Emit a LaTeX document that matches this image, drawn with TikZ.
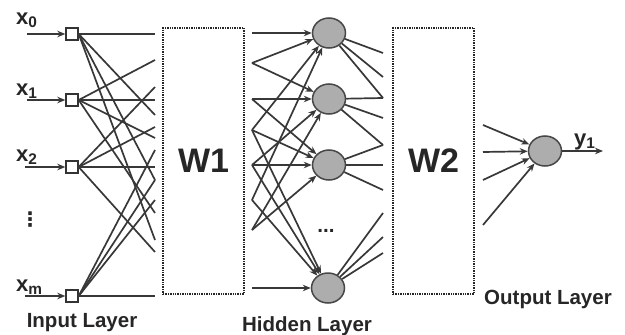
\documentclass[tikz,border=0pt]{standalone}
\usepackage{fontspec}
\setmainfont{Liberation Sans}
\newfontfamily\djv{DejaVu Sans}
\usetikzlibrary{arrows.meta,shapes.geometric}
\begin{document}
\begin{tikzpicture}[x=1pt,y=-1pt,
  wire/.style={draw=black!78, line width=1.7pt},
  arr/.style={wire,-{Stealth[length=8pt,width=6.5pt]}},
  inbox/.style={draw=black!80, line width=1.4pt, fill=white, minimum size=12pt, inner sep=0pt},
  neuron/.style={ellipse, draw=black!72, line width=1.5pt, fill=black!32, minimum width=33pt, minimum height=30pt, inner sep=0pt},
  wbox/.style={draw=black!85, line width=2.2pt, dash pattern=on 1.4pt off 1pt, text=black!85,
     font=\fontsize{34}{34}\selectfont\bfseries, minimum width=81pt, minimum height=266pt, inner sep=0pt},
  lbl/.style={font=\fontsize{20.5}{20.5}\selectfont\bfseries, text=black!85, inner sep=0pt},
  xlbl/.style={font=\fontsize{22}{22}\selectfont\bfseries, text=black!85, inner sep=0pt, anchor=base west}
]
\useasboundingbox (0,0) rectangle (625,335);

% input squares
\node[inbox] (i0) at (72,34) {};
\node[inbox] (i1) at (72,100) {};
\node[inbox] (i2) at (72,167) {};
\node[inbox] (im) at (72,296) {};

% input arrow starts
\coordinate (s0) at (27,34);
\coordinate (s1) at (27,100);
\coordinate (s2) at (25,167);
\coordinate (sm) at (25,296);
\draw[arr] (s0) -- (i0);
\draw[arr] (s1) -- (i1);
\draw[arr] (s2) -- (i2);
\draw[arr] (sm) -- (im);

% input labels
\node[xlbl] (lx0) at (16,24) {x\textsubscript{0}};
\node[xlbl] (lx1) at (16,95) {x\textsubscript{1}};
\node[xlbl] (lx2) at (16,161) {x\textsubscript{2}};
\node[xlbl] (lxm) at (16,291) {x\textsubscript{m}};
\node[font=\djv\bfseries\fontsize{20}{20}\selectfont, text=black!85] (vd) at (30,220) {⋮};

% end points before W1
\foreach \y in {34,60,87,100,115,127,138,150,167,180,200,213,240,252,296}
  \coordinate (L\y) at (155,\y);
\foreach \t in {34,115,180,240} \draw[wire] (i0.east) -- (L\t);
\foreach \t in {60,100,138,213} \draw[wire] (i1.east) -- (L\t);
\foreach \t in {87,127,167,252} \draw[wire] (i2.east) -- (L\t);
\foreach \t in {150,180,200,296} \draw[wire] (im.east) -- (L\t);

% W boxes
\node[wbox] (w1) at (203.5,161) {W1};
\node[wbox] (w2) at (433.5,161) {W2};

% hidden neurons
\node[neuron] (h1) at (329,33) {};
\node[neuron] (h2) at (329,99) {};
\node[neuron] (h3) at (329,165) {};
\node[neuron] (h4) at (328,288) {};
\node[lbl] (hd) at (326,231) {...};

% starts after W1
\foreach \y in {33,63,99,130,165,200,230,288}
  \coordinate (R\y) at (252,\y);
\foreach \s in {33,63,130,200} \draw[arr] (R\s) -- (h1);
\foreach \s in {63,99,165,230} \draw[arr] (R\s) -- (h2);
\foreach \s in {99,130,165,230} \draw[arr] (R\s) -- (h3);
\foreach \s in {130,165,200,288} \draw[arr] (R\s) -- (h4);

% ends before W2
\foreach \y in {53,77,98,118,145,165,190,213,237,253}
  \coordinate (Q\y) at (383,\y);
\foreach \t in {53,77,98} \draw[wire] (h1) -- (Q\t);
\foreach \t in {98,118,145} \draw[wire] (h2) -- (Q\t);
\foreach \t in {145,165,190} \draw[wire] (h3) -- (Q\t);
\foreach \t in {213,237,253} \draw[wire] (h4) -- (Q\t);

% output neuron
\node[neuron] (out) at (545,151) {};
\foreach \y in {125,152,180,225}
  \coordinate (O\y) at (483,\y);
\foreach \s in {125,152,180,225} \draw[arr] (O\s) -- (out);
\coordinate (yend) at (603,151);
\draw[arr] (out) -- (yend);
\node[xlbl] (ly) at (574,145) {y\textsubscript{1}};

% layer labels
\node[lbl] (tin) at (82,323) {Input Layer};
\node[lbl] (thid) at (307,326) {Hidden Layer};
\node[lbl] (tout) at (548,299) {Output Layer};
\end{tikzpicture}
\end{document}
